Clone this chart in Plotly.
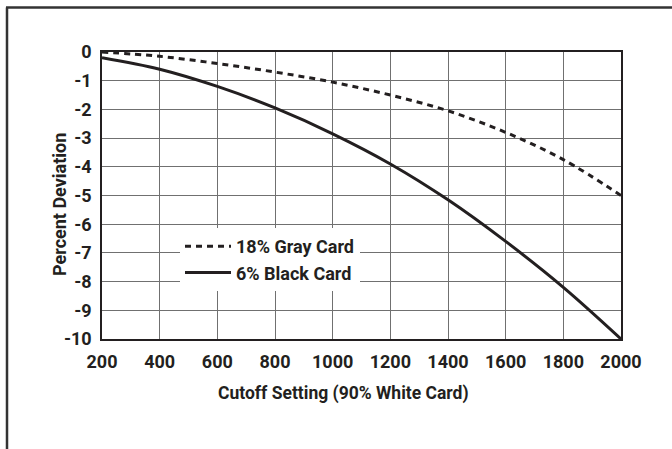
import plotly.graph_objects as go

cutoff = [200, 400, 600, 800, 1000, 1200, 1400, 1600, 1800, 2000]
gray_card = [0.0, -0.15, -0.4, -0.7, -1.05, -1.5, -2.05, -2.8, -3.75, -5.0]
black_card = [-0.2, -0.6, -1.2, -1.95, -2.85, -3.9, -5.15, -6.6, -8.2, -10.0]

x_ticks = [200, 400, 600, 800, 1000, 1200, 1400, 1600, 1800, 2000]
y_ticks = [0, -1, -2, -3, -4, -5, -6, -7, -8, -9, -10]

FONT = "Roboto, sans-serif"
INK = "#231f20"

fig = go.Figure()
fig.add_trace(go.Scatter(x=cutoff, y=gray_card, mode="lines", name="18% Gray Card",
                         line=dict(color=INK, width=3, dash="6px,5px"), line_shape="spline"))
fig.add_trace(go.Scatter(x=cutoff, y=black_card, mode="lines", name="6% Black Card",
                         line=dict(color=INK, width=3), line_shape="spline"))

L, R, T, B = 102, 51, 52, 110
W, H = 672, 449
pw, ph = W - L - R, H - T - B

def px(x):
    return (x - L) / pw

def py(y):
    return (H - B - y) / ph

fig.update_layout(
    width=W, height=H,
    margin=dict(l=L, r=R, t=T, b=B),
    paper_bgcolor="white", plot_bgcolor="white",
    font=dict(family=FONT, size=17, color=INK, weight="bold"),
    showlegend=True,
    legend=dict(x=px(180), y=py(228), xanchor="left", yanchor="top",
                bgcolor="white", borderwidth=0, itemwidth=46,
                font=dict(family=FONT, size=18, color=INK, weight="bold"),
                tracegroupgap=0),
    xaxis=dict(range=[200, 2000], tickvals=x_ticks, ticktext=[str(v) for v in x_ticks],
               showgrid=True, gridcolor="#707070", gridwidth=1,
               showline=True, linecolor=INK, linewidth=1.5, mirror=True,
               zeroline=False, ticks="", ticklabelstandoff=6,
               tickfont=dict(family=FONT, size=18, weight="bold")),
    yaxis=dict(range=[-10, 0], tickvals=y_ticks, ticktext=[str(v) for v in y_ticks],
               showgrid=True, gridcolor="#707070", gridwidth=1,
               showline=True, linecolor=INK, linewidth=1.5, mirror=True,
               zeroline=False, ticks="", ticklabelstandoff=5,
               tickfont=dict(family=FONT, size=18, weight="bold")),
    annotations=[
        dict(text="Cutoff Setting (90% White Card)", xref="paper", yref="paper",
             x=px(343.5), y=py(393), xanchor="center", yanchor="middle", showarrow=False,
             font=dict(family=FONT, size=17.5, color=INK, weight="bold")),
        dict(text="Percent Deviation", xref="paper", yref="paper", textangle=-90,
             x=px(59), y=py(205), xanchor="center", yanchor="middle", showarrow=False,
             font=dict(family=FONT, size=18, color=INK, weight="bold")),
    ],
    shapes=[
        dict(type="line", xref="paper", yref="paper", x0=px(6), x1=px(690), y0=py(7.5), y1=py(7.5),
             line=dict(color="#333333", width=2.5)),
        dict(type="line", xref="paper", yref="paper", x0=px(7), x1=px(7), y0=py(7.5), y1=py(470),
             line=dict(color="#333333", width=2.5)),
    ],
)

fig.write_html("out.html", config={"displayModeBar": False},
               post_script="document.body.style.margin='0';document.body.style.overflow='hidden';")
